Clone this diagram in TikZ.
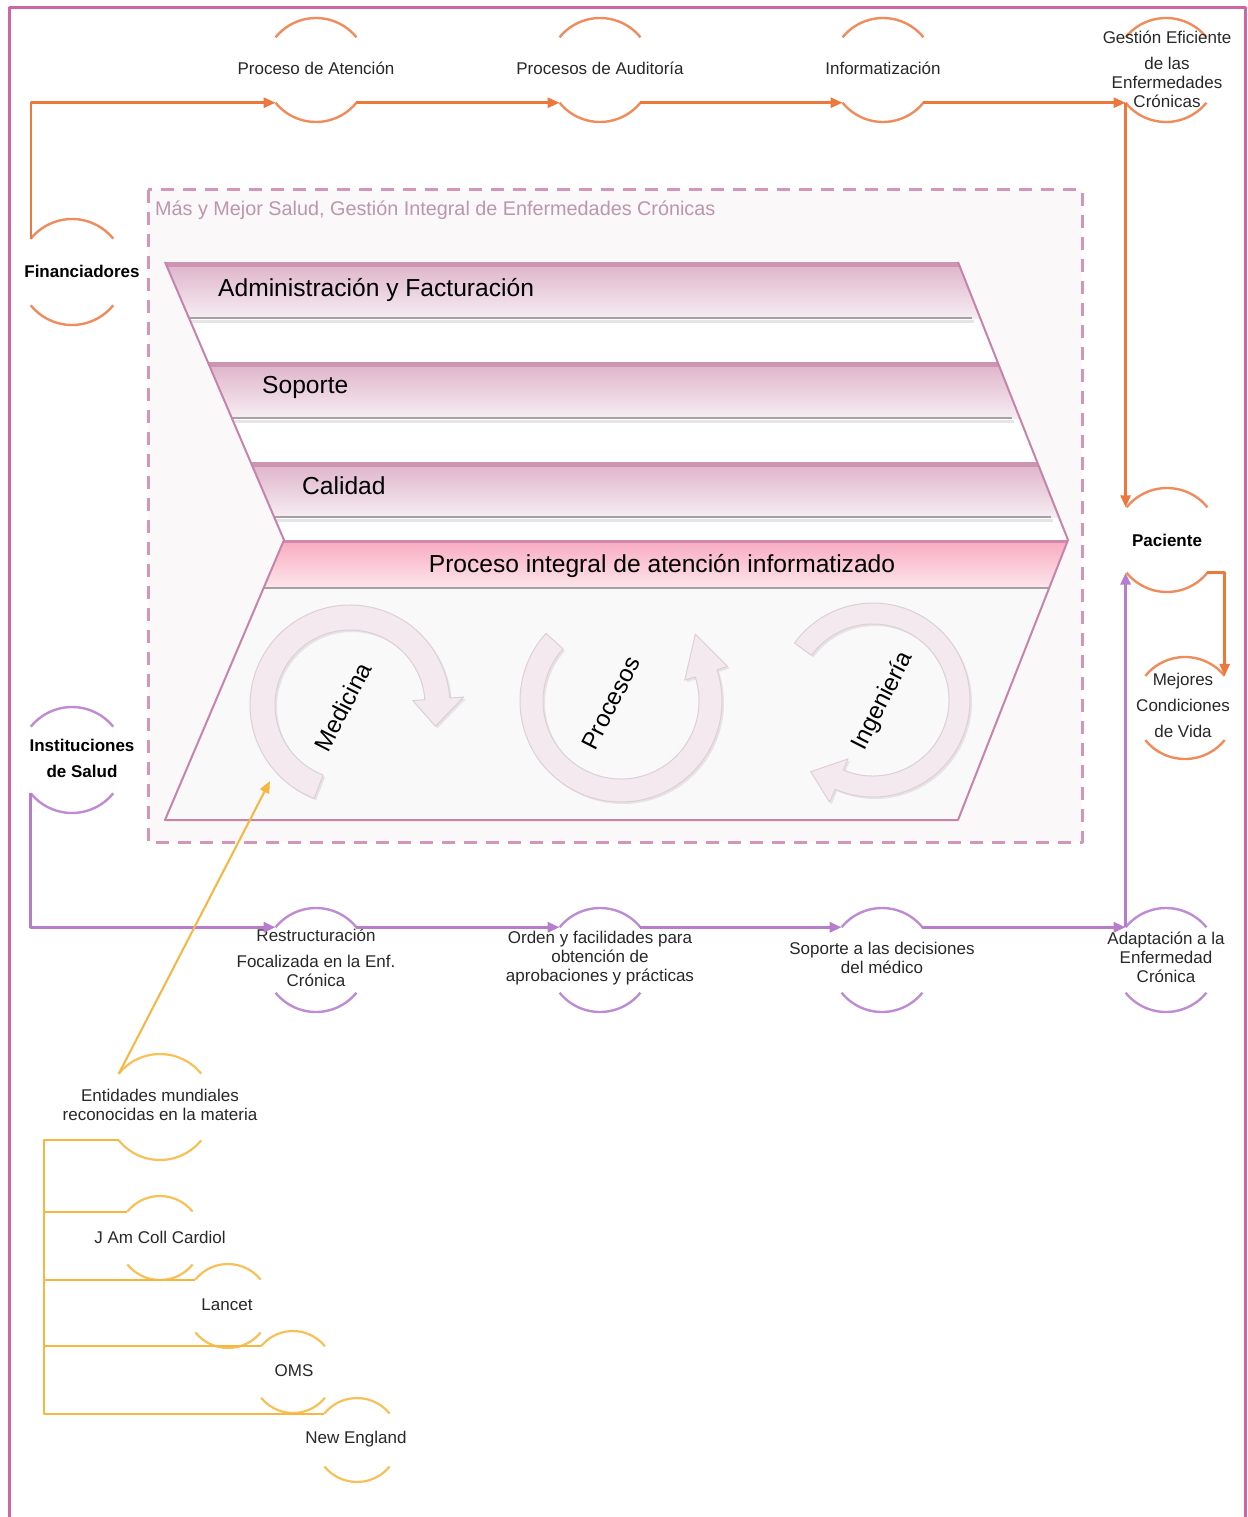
\documentclass[tikz,border=0pt]{standalone}
\usepackage{fontspec}
\setmainfont{Liberation Sans}
\usetikzlibrary{arrows.meta}

\definecolor{framec}{RGB}{207,102,163}
\definecolor{orng}{RGB}{236,120,60}
\definecolor{orngarc}{RGB}{240,140,92}
\definecolor{purp}{RGB}{184,124,204}
\definecolor{purparc}{RGB}{190,140,210}
\definecolor{yell}{RGB}{247,182,64}
\definecolor{yellarc}{RGB}{248,192,88}
\definecolor{dashc}{RGB}{212,150,184}
\definecolor{boxfill}{RGB}{250,248,249}
\definecolor{subt}{RGB}{188,150,172}
\definecolor{mauve}{RGB}{198,132,170}
\definecolor{stripe}{RGB}{204,150,178}
\definecolor{bandtop}{RGB}{222,178,201}
\definecolor{bandbot}{RGB}{246,237,242}
\definecolor{pinkstripe}{RGB}{210,136,172}
\definecolor{pinktop}{RGB}{248,170,192}
\definecolor{pinkbot}{RGB}{253,230,236}
\definecolor{greyline}{RGB}{165,160,163}
\definecolor{ringfill}{RGB}{244,233,239}
\definecolor{ringedge}{RGB}{220,208,215}
\definecolor{ringshadow}{RGB}{232,225,229}
\definecolor{lowfill}{RGB}{250,249,250}
\definecolor{txt}{RGB}{40,40,40}

\newcommand\lblfont{\fontsize{17}{19}\selectfont}
\newcommand\boldlbl{\fontsize{17}{19}\selectfont\bfseries}
\newcommand\bandfont{\fontsize{24.6}{26}\selectfont}
\newcommand\cycfont{\fontsize{24}{26}\selectfont}
\newcommand\subfont{\fontsize{19.8}{21}\selectfont}

% ring node with an upper and a lower arc: name, centre, radius, arc style
\newcommand\hub[4]{%
  \node[hubring, minimum size=2*#3] (#1) at (#2) {};
  \draw[#4] (#1.39) arc[start angle=39,end angle=141,radius=#3];
  \draw[#4] (#1.219) arc[start angle=219,end angle=321,radius=#3];
}

\tikzset{
  hubring/.style={circle, inner sep=0pt, outer sep=0pt, draw=none},
  lbl/.style={font=\lblfont, text=txt, align=center, inner sep=0pt},
  bold/.style={font=\boldlbl, text=black, align=center, inner sep=0pt},
  oarc/.style={draw=orngarc, line width=2.4pt},
  parc/.style={draw=purparc, line width=2.4pt},
  yarc/.style={draw=yellarc, line width=2.2pt},
  oline/.style={draw=orng, line width=2.6pt},
  pline/.style={draw=purp, line width=3pt},
  yline/.style={draw=yell, line width=2pt},
  tip/.style={-{Triangle[length=12pt,width=10pt]}},
  bandtext/.style={font=\bandfont, text=black, inner sep=0pt},
  ring/.style={fill=ringfill, draw=ringedge, line width=1pt},
  ringsh/.style={fill=ringshadow, draw=none},
  cyctext/.style={font=\cycfont, text=black, inner sep=0pt, rotate=63},
}

\begin{document}
\begin{tikzpicture}[x=1pt,y=1pt,line join=round]
\useasboundingbox (0,0) rectangle (1247,-1517);
\fill[white] (0,0) rectangle (1247,-1517);

% outer frame
\draw[framec, line width=3pt] (9,-1530) -- (9,-8) -- (1245,-8) -- (1245,-1530);

% dashed container
\draw[draw=dashc, line width=3pt, dash pattern=on 13pt off 9pt, fill=boxfill]
  (148,-190) rectangle (1082,-842);
\node[anchor=west, text=subt, font=\subfont, inner sep=0pt] (title) at (155,-210)
  {Más y Mejor Salud, Gestión Integral de Enfermedades Crónicas};

% chevron body
\coordinate (A) at (165,-262);
\coordinate (B) at (958,-262);
\coordinate (P) at (1068,-540);
\coordinate (C) at (958,-820);
\coordinate (D) at (165,-820);
\coordinate (N) at (284,-540);
\fill[white] (A) -- (B) -- (P) -- (C) -- (D) -- (N) -- cycle;
\fill[lowfill] (N) -- (P) -- (C) -- (D) -- cycle;
\begin{scope}
  \clip (A) -- (B) -- (P) -- (C) -- (D) -- (N) -- cycle;
  % three layers
  \shade[top color=bandtop, bottom color=bandbot] (150,-262) rectangle (1080,-318);
  \shade[top color=bandtop, bottom color=bandbot] (150,-362) rectangle (1080,-418);
  \shade[top color=bandtop, bottom color=bandbot] (150,-462) rectangle (1080,-517);
  \draw[stripe, line width=5pt] (150,-264) -- (1080,-264);
  \draw[stripe, line width=5pt] (150,-364) -- (1080,-364);
  \draw[stripe, line width=5pt] (150,-464) -- (1080,-464);
  \draw[white!90!black, line width=3pt] (150,-321) -- (974,-321);
  \draw[white!90!black, line width=3pt] (150,-421) -- (1014,-421);
  \draw[white!90!black, line width=3pt] (150,-520) -- (1053,-520);
  \draw[greyline, line width=2pt] (150,-318) -- (972,-318);
  \draw[greyline, line width=2pt] (150,-418) -- (1012,-418);
  \draw[greyline, line width=2pt] (150,-517) -- (1051,-517);
  % integrated process band
  \shade[top color=pinktop, bottom color=pinkbot] (150,-540) rectangle (1080,-588);
  \draw[pinkstripe, line width=3pt] (150,-541) -- (1080,-541);
  \draw[greyline, line width=1.6pt] (150,-588) -- (1080,-588);
\end{scope}
\draw[mauve, line width=2pt] (A) -- (N) -- (D) -- (C) -- (P) -- (B);

\node[bandtext, anchor=west] (adm) at (218,-290) {Administración y Facturación};
\node[bandtext, anchor=west] (sopt) at (262,-387) {Soporte};
\node[bandtext, anchor=west] (cal) at (302,-486) {Calidad};
\node[bandtext] (pint) at (662,-566) {Proceso integral de atención informatizado};

% circular arrows
\begin{scope}[shift={(350,-705)}]
  \path[ringsh, shift={(2,-2)}] (249:100) arc[start angle=249,end angle=4,radius=100]
    -- (4:114) -- (-14:88) -- (4:63) -- (4:75) arc[start angle=4,end angle=249,radius=75] -- cycle;
  \path[ring] (249:100) arc[start angle=249,end angle=4,radius=100]
    -- (4:114) -- (-14:88) -- (4:63) -- (4:75) arc[start angle=4,end angle=249,radius=75] -- cycle;
\end{scope}
\begin{scope}[shift={(621,-701)}]
  \path[ringsh, shift={(2,-2)}] (138:101) arc[start angle=138,end angle=378,radius=101]
    -- (378:112) -- (402:100) -- (378:67) -- (378:78) arc[start angle=378,end angle=138,radius=78] -- cycle;
  \path[ring] (138:101) arc[start angle=138,end angle=378,radius=101]
    -- (378:112) -- (402:100) -- (378:67) -- (378:78) arc[start angle=378,end angle=138,radius=78] -- cycle;
\end{scope}
\begin{scope}[shift={(873,-700)}]
  \path[ringsh, shift={(2,-2)}] (144:97) arc[start angle=144,end angle=-113,radius=97]
    -- (-113:111) -- (-131:95) -- (-113:64) -- (-113:76) arc[start angle=-113,end angle=144,radius=76] -- cycle;
  \path[ring] (144:97) arc[start angle=144,end angle=-113,radius=97]
    -- (-113:111) -- (-131:95) -- (-113:64) -- (-113:76) arc[start angle=-113,end angle=144,radius=76] -- cycle;
\end{scope}
\node[cyctext] (med) at (343,-707) {Medicina};
\node[cyctext] (proc) at (611,-703) {Procesos};
\node[cyctext] (ing) at (883,-701) {Ingeniería};

% top row
\hub{pa}{316,-70}{52}{oarc}
\hub{au}{600,-70}{52}{oarc}
\hub{inf}{883,-70}{52}{oarc}
\hub{ge}{1166,-70}{52}{oarc}
\node[lbl] (pa-t) at (316,-68) {Proceso de Atención};
\node[lbl] (au-t) at (600,-68) {Procesos de Auditoría};
\node[lbl] (inf-t) at (883,-68) {Informatización};
\node[lbl] (ge-t) at (1167,-69) {Gestión Eficiente\\[7pt]de las\\Enfermedades\\Crónicas};

% actors
\hub{fin}{72,-272}{53}{oarc}
\node[bold] (fin-t) at (82,-271) {Financiadores};
\hub{ins}{72,-760}{53}{parc}
\node[bold] (ins-t) at (82,-758) {Instituciones\\[7pt]de Salud};
\hub{pac}{1167,-540}{52}{oarc}
\node[bold] (pac-t) at (1167,-540) {Paciente};
\hub{mej}{1185,-708}{51}{oarc}
\node[lbl] (mej-t) at (1183,-705) {Mejores\\[7pt]Condiciones\\[7pt]de Vida};

% bottom row
\hub{res}{316,-960}{52}{parc}
\hub{ord}{600,-960}{52}{parc}
\hub{sop}{882,-960}{52}{parc}
\hub{ada}{1166,-960}{52}{parc}
\node[lbl] (res-t) at (316,-958) {Restructuración\\[7pt]Focalizada en la Enf.\\Crónica};
\node[lbl] (ord-t) at (600,-958) {Orden y facilidades para\\obtención de\\aprobaciones y prácticas};
\node[lbl] (sop-t) at (882,-958) {Soporte a las decisiones\\del médico};
\node[lbl] (ada-t) at (1166,-957) {Adaptación a la\\Enfermedad\\Crónica};

% reference sources
\hub{ent}{160,-1107}{53}{yarc}
\node[lbl] (ent-t) at (160,-1105) {Entidades mundiales\\reconocidas en la materia};
\hub{jam}{160,-1238}{42}{yarc}
\node[lbl] (jam-t) at (160,-1237) {J Am Coll Cardiol};
\hub{lan}{228,-1306}{42}{yarc}
\node[lbl] (lan-t) at (227,-1305) {Lancet};
\hub{oms}{293,-1372}{41}{yarc}
\node[lbl] (oms-t) at (294,-1371) {OMS};
\hub{ne}{357,-1440}{42}{yarc}
\node[lbl] (ne-t) at (356,-1439) {New England};

% orange flow
\draw[oline, tip] (fin.141) |- (pa.219);
\draw[oline, tip] (pa.321) -- (au.219);
\draw[oline, tip] (au.321) -- (inf.219);
\draw[oline, tip] (inf.321) -- (ge.219);
\draw[oline, tip] (ge.219) -- (ge.219 |- pac.141);
\draw[oline, tip] (pac.321) -| (mej.39);

% purple flow
\draw[pline, tip] (ins.219) |- (res.141);
\draw[pline, tip] (res.39) -- (ord.141);
\draw[pline, tip] (ord.39) -- (sop.141);
\draw[pline, tip] (sop.39) -- (ada.141);
\draw[pline, tip] (ada.141) -- (ada.141 |- pac.219);

% sources feeding medicine
\coordinate (medin) at (270,-781);
\draw[yline, tip] (ent.141) -- (medin);
\coordinate (trunk) at (44,-1141);
\draw[yline] (ent.219) -- (ent.219 -| trunk) -- (trunk |- ne.141) -- (ne.141);
\draw[yline] (trunk |- jam.141) -- (jam.141);
\draw[yline] (trunk |- lan.141) -- (lan.141);
\draw[yline] (trunk |- oms.141) -- (oms.141);
\end{tikzpicture}
\end{document}
